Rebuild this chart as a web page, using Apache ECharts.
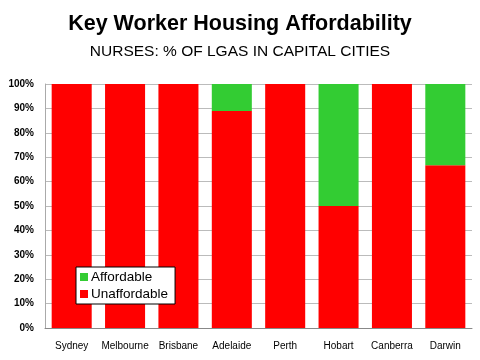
<!DOCTYPE html>
<html>
<head>
<meta charset="utf-8">
<script src="https://cdn.jsdelivr.net/npm/echarts@6/dist/echarts.min.js"></script>
<style>
  html, body { margin: 0; padding: 0; background: #fff; }
  #main { width: 480px; height: 360px; }
</style>
</head>
<body>
<div id="main"></div>
<script>
const cities = ['Sydney', 'Melbourne', 'Brisbane', 'Adelaide', 'Perth', 'Hobart', 'Canberra', 'Darwin'];
const unaffordable = [100, 100, 100, 88.9, 100, 50, 100, 66.7];
const affordable = [0, 0, 0, 11.1, 0, 50, 0, 33.3];

const myChart = echarts.init(document.querySelector('#main'));
let option = {
  animation: false,
  title: [
    {
      text: 'Key Worker Housing Affordability',
      left: 'center',
      top: 8,
      textStyle: { fontFamily: 'Liberation Sans', fontSize: 21.5, fontWeight: 'bold', color: '#000' }
    },
    {
      text: 'NURSES: % OF LGAS IN CAPITAL CITIES',
      left: 'center',
      top: 39,
      textStyle: { fontFamily: 'Liberation Sans', fontSize: 15.5, fontWeight: 'normal', color: '#000' }
    }
  ],
  legend: {
    data: ['Affordable', 'Unaffordable'],
    orient: 'vertical',
    left: 76,
    top: 267,
    itemWidth: 8,
    itemHeight: 8,
    itemGap: 3,
    padding: [3, 7, 3, 4],
    backgroundColor: '#fff',
    borderColor: '#000',
    borderWidth: 1,
    borderRadius: 0,
    textStyle: { fontFamily: 'Liberation Sans', fontSize: 13.5, color: '#000', padding: [0, 0, 0, -2] },
    icon: 'rect'
  },
  grid: { left: 45, right: 8, top: 84, bottom: 32 },
  xAxis: {
    type: 'category',
    data: cities,
    axisLine: { lineStyle: { color: '#888' } },
    axisTick: { show: false },
    axisLabel: { interval: 0, fontFamily: 'Liberation Sans', fontSize: 10, color: '#000', margin: 13 }
  },
  yAxis: {
    type: 'value',
    min: 0,
    max: 100,
    interval: 10,
    axisLine: { show: true, lineStyle: { color: '#aaa' } },
    axisTick: { show: false },
    splitLine: { lineStyle: { color: '#bbb', width: 1 } },
    axisLabel: {
      formatter: '{value}%',
      fontFamily: 'Liberation Sans',
      fontSize: 10,
      fontWeight: 'bold',
      color: '#000',
      margin: 11
    }
  },
  series: [
    {
      name: 'Unaffordable',
      type: 'bar',
      stack: 'total',
      barWidth: '75%',
      data: unaffordable,
      itemStyle: { color: '#ff0000' }
    },
    {
      name: 'Affordable',
      type: 'bar',
      stack: 'total',
      data: affordable,
      itemStyle: { color: '#33cc33' }
    }
  ]
};
option && myChart.setOption(option);
</script>
</body>
</html>
